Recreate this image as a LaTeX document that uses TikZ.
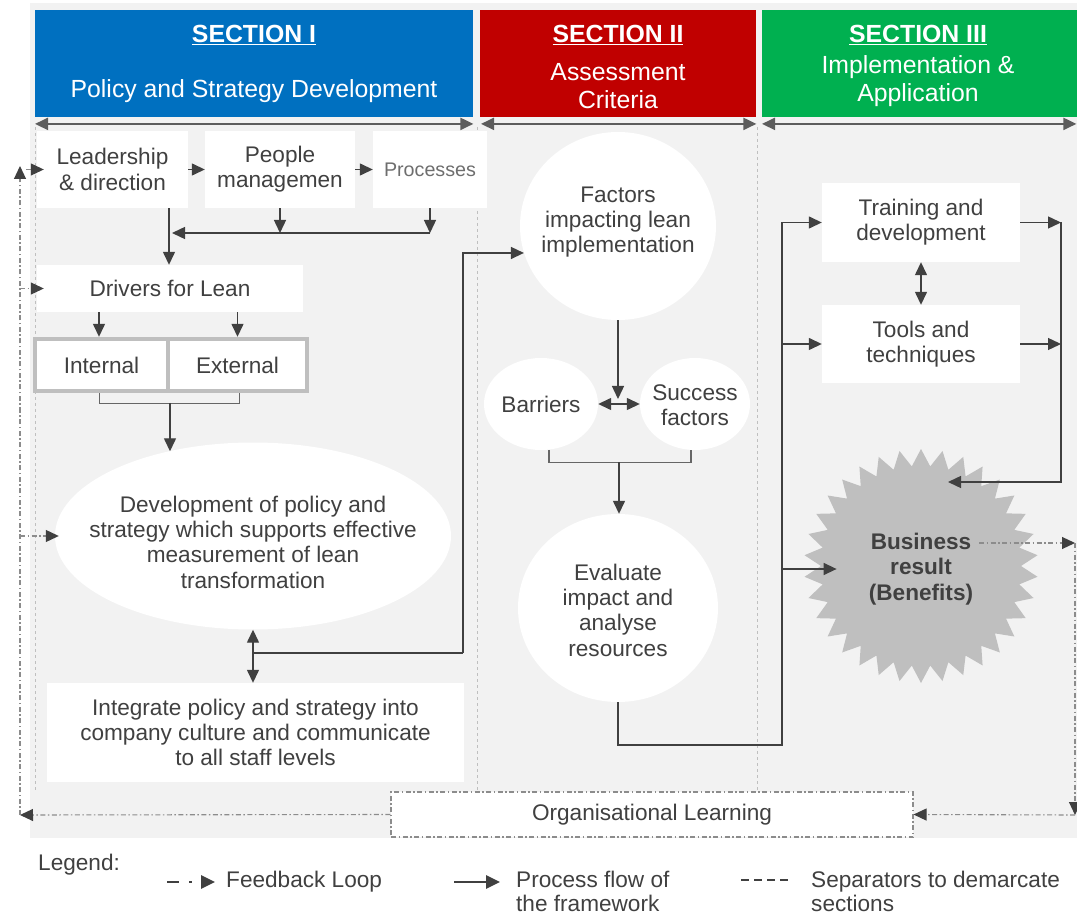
\documentclass[tikz,border=0pt]{standalone}
\usepackage{fontspec}
\setmainfont{Liberation Sans}
\usetikzlibrary{arrows.meta,shapes.geometric,calc}

\definecolor{txt}{HTML}{404040}
\definecolor{arr}{HTML}{404040}
\definecolor{panel}{HTML}{F2F2F2}
\definecolor{secblue}{HTML}{0070C0}
\definecolor{secred}{HTML}{C00000}
\definecolor{secgreen}{HTML}{00B050}
\definecolor{frame}{HTML}{BFBFBF}
\definecolor{fbline}{HTML}{8C8C8C}
\definecolor{sepline}{HTML}{BFBFBF}
\definecolor{proctxt}{HTML}{6E6E6E}

\newcommand\bodyfont{\fontsize{22.6}{25.3}\selectfont}
\newcommand\legendfont{\fontsize{22.6}{23.5}\selectfont}
\newcommand\headfont{\fontsize{24.8}{28}\selectfont}
\newcommand\procfont{\fontsize{19.7}{23}\selectfont}

\tikzset{
  box/.style={fill=white, draw=none, inner sep=0pt, align=center, text=txt, font=\bodyfont},
  blob/.style={ellipse, fill=white, draw=none, inner sep=0pt},
  label/.style={align=center, text=txt, font=\bodyfont, inner sep=0pt},
  head/.style={align=center, text=white, font=\headfont, inner sep=0pt},
  tip/.tip={Triangle[length=13pt,width=12pt]},
  flow/.style={draw=arr, line width=1.4pt, -tip},
  twoway/.style={draw=arr, line width=1.4pt, tip-tip},
  link/.style={draw=arr!80, line width=1.2pt},
  fb/.style={draw=fbline, line width=1.1pt, dash pattern=on 5pt off 2.5pt on 1.5pt off 2.5pt,
    -{Triangle[length=13pt,width=12pt,color=arr]}},
  sep/.style={draw=sepline, line width=0.9pt, dash pattern=on 3pt off 3pt},
  span/.style={draw=arr!85, line width=2pt, tip-tip},
}

\begin{document}
\begin{tikzpicture}[x=1pt,y=-1pt]
\useasboundingbox (0,0) rectangle (1077,917);
\fill[white] (0,0) rectangle (1077,917);
\fill[panel] (30,3) rectangle (1077,838);

% section separators
\draw[sep] (35,127) -- (35,792);
\draw[sep] (477,127) -- (477,792);
\draw[sep] (757,127) -- (757,792);

% section headers
\node[fill=secblue, minimum width=438, minimum height=107, inner sep=0pt, anchor=north west] (h1) at (35,10) {};
\node[fill=secred, minimum width=276, minimum height=107, inner sep=0pt, anchor=north west] (h2) at (480,10) {};
\node[fill=secgreen, minimum width=315, minimum height=107, inner sep=0pt, anchor=north west] (h3) at (762,10) {};
\node[head] (h1a) at (254,35) {\textbf{\underline{SECTION I}}};
\node[head] (h1b) at (254,91) {Policy and Strategy Development};
\node[head] (h2a) at (618,35) {\textbf{\underline{SECTION II}}};
\node[head] (h2b) at (618,86) {Assessment\\Criteria};
\node[head] (h3a) at (918,35) {\textbf{\underline{SECTION III}}};
\node[head] (h3b) at (918,81) {Implementation \&\\Application};
\draw[span] ([yshift=-6.5pt]h1.south west) -- ([yshift=-6.5pt]h1.south east);
\draw[span] ([yshift=-6.5pt,xshift=1pt]h2.south west) -- ([yshift=-6.5pt]h2.south east);
\draw[span] ([yshift=-6.5pt]h3.south west) -- ([yshift=-6.5pt,xshift=-1pt]h3.south east);

% section I
\node[box, minimum width=151, minimum height=77] (lead) at (112.5,169.5) {Leadership\\\& direction};
\node[box, minimum width=150, minimum height=77] (people) at (280,169.5) {People\\managemen};
\node[box, minimum width=114, minimum height=77, font=\procfont, text=proctxt] (proc) at (430,169.5) {Processes};
\node[box, minimum width=266, minimum height=47] (drivers) at (170,288.5) {Drivers for Lean};
\node[fill=frame, minimum width=276, minimum height=56, inner sep=0pt] (ie) at (171,365) {};
\node[box, minimum width=129, minimum height=48] (internal) at (101.5,365) {Internal};
\node[box, minimum width=135, minimum height=48] (external) at (237.5,365) {External};
\node[blob, minimum width=396, minimum height=187] (dev) at (253,536) {};
\node[label] (devtext) at (253,542) {Development of policy and\\strategy which supports effective\\measurement of lean\\transformation};
\node[box, minimum width=417, minimum height=99] (integ) at (255.5,732.5) {Integrate policy and strategy into\\company culture and communicate\\to all staff levels};

% section II
\node[blob, minimum width=196, minimum height=188] (factors) at (618,226) {};
\node[label] (factorstext) at (618,222) {Factors\\impacting lean\\implementation};
\node[blob, minimum width=114, minimum height=92] (barriers) at (541,404) {};
\node[label] (barrierstext) at (541,404) {Barriers};
\node[blob, minimum width=110, minimum height=92] (success) at (695,404) {};
\node[label] (successtext) at (695,405) {Success\\factors};
\node[blob, minimum width=200, minimum height=188] (evaluate) at (618,608) {};
\node[label] (evaluatetext) at (618,610) {Evaluate\\impact and\\analyse\\resources};

% section III
\node[box, minimum width=198, minimum height=79] (training) at (921,222.5) {Training and\\development};
\node[box, minimum width=198, minimum height=78] (tools) at (921,344) {Tools and\\techniques};
\node[star, star points=34, star point ratio=1.17, minimum size=234, fill=frame, draw=none, inner sep=0pt] (star) at (921,566) {};
\node[label, font=\bodyfont\bfseries] (res) at (921,569) {Business\\result\\(Benefits)};

% organisational learning
\node[box, draw=fbline, line width=1.1pt, dash pattern=on 5pt off 2.5pt on 1.5pt off 2.5pt,
      minimum width=522, minimum height=45] (org) at (652,814.5) {Organisational Learning};

% process flow, section I
\coordinate (lx) at (169,233);
\draw[flow] (lead.east) -- (people.west);
\draw[flow] (people.east) -- (proc.west);
\draw[flow] (people.south) -- (people.south |- lx);
\draw[flow] (proc.south) -- (proc.south |- lx);
\draw[flow] (proc.south |- lx) -- ([xshift=3pt]lx);
\draw[flow] (lead.south -| lx) -- (drivers.north -| lx);
\draw[flow] ([xshift=-2.5pt]internal.north |- drivers.south) -- ([xshift=-2.5pt]internal.north |- ie.north);
\draw[flow] (external.north |- drivers.south) -- (external.north |- ie.north);
\draw[link] ([xshift=-2pt]internal.south |- ie.south) -- ++(0,10) -| ([xshift=2pt]external.south |- ie.south);
\coordinate (ij) at (170,403);
\draw[flow] (ij) -- (ij |- dev.135);
\draw[twoway] (dev.south) -- (dev.south |- integ.north);
\coordinate (c1) at (253,653);
\coordinate (c2) at (463,653);
\draw[link, draw=arr, line width=1.4pt] (c1) -- (c2);
\draw[flow] (c2) -- (c2 |- factors.196) -- (factors.196);

% process flow, section II
\coordinate (bsm) at (618,399);
\draw[flow] (factors.south) -- (factors.south |- bsm);
\draw[twoway] (barriers.east) -- (success.west);
\draw[link] ([xshift=8pt]barriers.south) -- ++(0,12) -| ([xshift=-4pt]success.south);
\coordinate (bj) at (619,462);
\draw[flow] (bj) -- (bj |- evaluate.north);

% process flow, section III
\coordinate (trunk) at (782,745);
\draw[link, draw=arr, line width=1.4pt] (evaluate.south) |- (trunk) -- (trunk |- training);
\draw[flow] (trunk |- training) -- (training.west);
\draw[flow] (trunk |- tools) -- (tools.west);
\draw[flow] (trunk |- res) -- ([xshift=16pt]star.west |- res);
\draw[twoway] (training.south) -- (tools.north);
\coordinate (rr) at (1061,221);
\coordinate (sin) at (948,482);
\draw[flow] (training.east) -- (rr |- training);
\draw[flow] (tools.east) -- (rr |- tools);
\draw[flow] (rr |- training) |- (sin);

% feedback loops
\coordinate (fbR0) at (979,543);
\coordinate (fbR1) at (1075,543);
\coordinate (fbR2) at (1075,815);
\draw[fb] (fbR0) -- (fbR1);
\draw[fb] (fbR1) -- (fbR2);
\draw[fb] (fbR2) -- (org.east);
\coordinate (fbL) at (20,815);
\coordinate (fbTop) at (20,166);
\draw[fb] (org.west) -- (fbL);
\draw[fb] (fbL) -- (fbTop);
\draw[fb, shorten <=6pt] (fbL |- lead.west) -- ([xshift=7pt]lead.west);
\draw[fb] (fbL |- drivers.west) -- ([xshift=7pt]drivers.west);
\draw[fb] (fbL |- dev.west) -- ([xshift=4pt]dev.west);

% legend
\node[label, anchor=west] (lg) at (38,865) {Legend:};
\coordinate (l1a) at (167,882);
\coordinate (l1b) at (215,882);
\draw[draw=arr, line width=2.6pt, dash pattern=on 12pt off 10pt on 3pt off 20pt,
      -{Triangle[length=14pt,width=13pt]}] (l1a) -- (l1b);
\node[label, anchor=west] (lg1) at (226,882) {Feedback Loop};
\coordinate (l2a) at (454,882);
\coordinate (l2b) at (500,882);
\draw[draw=arr, line width=2.6pt, -{Triangle[length=14pt,width=13pt]}] (l2a) -- (l2b);
\node[label, font=\legendfont, anchor=north west, align=left] (lg2) at (516,871) {Process flow of\\the framework};
\coordinate (l3a) at (741,880);
\coordinate (l3b) at (790,880);
\draw[draw=arr, line width=2.6pt, dash pattern=on 8pt off 5pt] (l3a) -- (l3b);
\node[label, font=\legendfont, anchor=north west, align=left] (lg3) at (811,871) {Separators to demarcate\\sections};
\end{tikzpicture}
\end{document}
